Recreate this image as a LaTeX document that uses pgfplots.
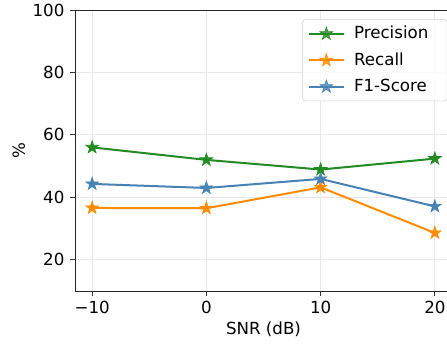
\documentclass[border=0pt]{standalone}
\usepackage{pgfplots}
\pgfplotsset{compat=1.18}
\usepackage{fontspec}
\setmainfont{DejaVu Sans}
\definecolor{cgreen}{HTML}{228B22}
\definecolor{corange}{HTML}{FF8C00}
\definecolor{cblue}{HTML}{4682B4}
\pgfdeclareplotmark{fstar}{%
  \pgfpathmoveto{\pgfpointpolar{90}{\pgfplotmarksize}}%
  \pgfpathlineto{\pgfpointpolar{126}{0.382\pgfplotmarksize}}%
  \pgfpathlineto{\pgfpointpolar{162}{\pgfplotmarksize}}%
  \pgfpathlineto{\pgfpointpolar{198}{0.382\pgfplotmarksize}}%
  \pgfpathlineto{\pgfpointpolar{234}{\pgfplotmarksize}}%
  \pgfpathlineto{\pgfpointpolar{270}{0.382\pgfplotmarksize}}%
  \pgfpathlineto{\pgfpointpolar{306}{\pgfplotmarksize}}%
  \pgfpathlineto{\pgfpointpolar{342}{0.382\pgfplotmarksize}}%
  \pgfpathlineto{\pgfpointpolar{18}{\pgfplotmarksize}}%
  \pgfpathlineto{\pgfpointpolar{54}{0.382\pgfplotmarksize}}%
  \pgfpathclose
  \pgfusepathqfillstroke
}
\begin{document}
\fontsize{12.5pt}{15pt}\selectfont
\begin{tikzpicture}
\useasboundingbox (-56.25pt,-39.75pt) rectangle (279pt,218.25pt);
\clip (-56.25pt,-39.75pt) rectangle (279pt,218.25pt);
\begin{axis}[
  at={(0,0)}, anchor=south west,
  scale only axis, width=282.75pt, height=210.75pt,
  xmin=-11.5, xmax=21.5, ymin=10, ymax=100,
  xtick={-10,0,10,20}, xticklabels={−10,0,10,20},
  ytick={20,40,60,80,100}, yticklabels={20,40,60,80,100},
  tick pos=left, tick align=outside, major tick length=3.6pt,
  every tick/.style={black!80, line width=0.6pt},
  axis line style={black!85, line width=0.6pt},
  grid=major, major grid style={black!9, line width=0.6pt},
  tick label style={font=\fontsize{12.5pt}{15pt}\selectfont},
  label style={font=\fontsize{12.5pt}{15pt}\selectfont},
  xlabel={SNR (dB)}, ylabel={\%},
  xlabel style={yshift=3pt},
  ylabel style={yshift=-3pt},
  legend style={at={(1,1)}, anchor=north east, xshift=-3.5pt, yshift=-7pt,
    draw=black!20, rounded corners=2pt, fill=white, fill opacity=0.8, text opacity=1,
    font=\fontsize{12.5pt}{15pt}\selectfont, row sep=4.5pt, column sep=5pt, inner sep=3pt, inner xsep=4pt},
  legend cell align=left,
  legend image code/.code={\draw[mark repeat=2, mark phase=2] plot coordinates {(0pt,0pt) (13pt,0pt) (26pt,0pt)};},
  every axis plot/.append style={line width=1.5pt, mark=fstar, mark size=5pt},
]
\addplot[color=cgreen, mark options={fill=cgreen, line width=0.5pt}] coordinates {(-10,56.0) (0,52.0) (10,48.9) (20,52.4)};
\addlegendentry{Precision\rule{8pt}{0pt}}
\addplot[color=corange, mark options={fill=corange, line width=0.5pt}] coordinates {(-10,36.6) (0,36.5) (10,43.2) (20,28.6)};
\addlegendentry{Recall}
\addplot[color=cblue, mark options={fill=cblue, line width=0.5pt}] coordinates {(-10,44.3) (0,43.0) (10,45.9) (20,37.1)};
\addlegendentry{F1-Score}
\end{axis}
\end{tikzpicture}
\end{document}
